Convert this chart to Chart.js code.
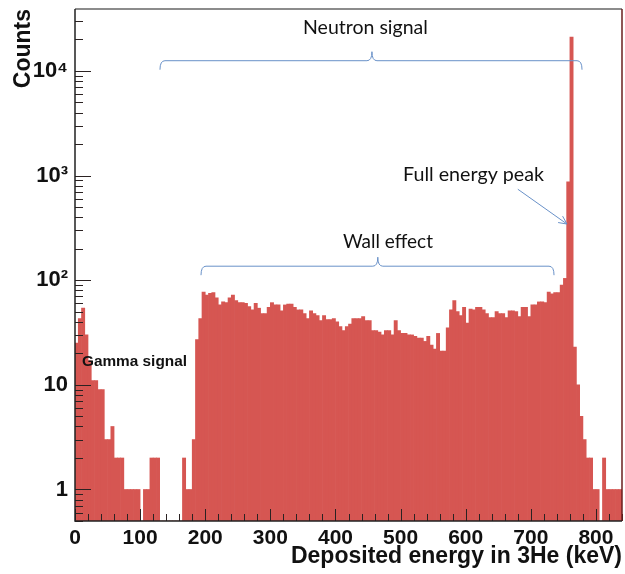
<!DOCTYPE html>
<html><head><meta charset="utf-8">
<script src="https://cdn.jsdelivr.net/npm/chart.js@4.4.1/dist/chart.umd.min.js"></script>
<style>html,body{margin:0;padding:0;background:#fff}canvas{display:block}</style>
</head><body>
<canvas id="c" width="625" height="574"></canvas>
<script>
// ---- data ----
const binWidth = 5; // keV per bin, histogram starts at 0 keV
// 0 - 195 keV : gamma region and start of wall effect
const gammaCounts = [25,43,54,30,17, 11,11,9,9,3, 3,4,2,2,2, 1,1,1,1,1, 0,1,1,2,2, 2,0,0,0,0, 0,0,0,2,1, 1,3,27,43];
// 195 - 750 keV : wall effect plateau
const wallCounts = [77,72,75,76,68,58,62,61,68,72,
  64,61,61,60,56,52,60,54,48,48,
  55,61,58,58,51,58,59,59,55,52,
  52,48,43,51,48,46,41,46,42,42,
  43,40,36,33,36,38,43,43,43,45,
  41,41,33,33,32,30,33,33,30,41,
  33,31,31,30,30,29,28,28,26,29,
  24,22,31,21,21,35,52,64,50,46,
  55,39,53,52,55,55,52,48,44,44,
  50,48,48,44,51,51,50,45,55,55,
  45,58,58,62,62,61,77,74,76,76,
  90];
// 750 - 840 keV : full energy peak and tail
const peakCounts = [104,870,21000,23,10,5,3,2,2,1,1,0,2,1,1,1,1,1];

const xTickValues = [0,100,200,300,400,500,600,700,800];
const xTickLabels = ['0','100','200','300','400','500','600','700','800'];
const yTickValues = [1,10,100,1000,10000];
const yTickLabels = ['1','10','10\u00B2','10\u00B3','10\u2074'];

const xMin = 0, xMax = 840, yMin = 0.5, yMax = 39000;
const xMinorStep = 20, xMajorStep = 100;

// annotations in data coordinates (keV, counts)
const braces = [
  {x1: 130.5, x2: 778.6, xm: 456, y: 12500},
  {x1: 193.5, x2: 735.6, xm: 465, y: 136}
];
const arrows = [{x1: 680, y1: 740, x2: 755.5, y2: 344}];
const notes = [
  {text: 'Neutron signal', x: 446, y: 22500, w: 125, align: 'center', family: 'Lato, "Open Sans", sans-serif', weight: 'normal'},
  {text: 'Full energy peak', x: 612, y: 887, w: 141, align: 'center', family: 'Lato, "Open Sans", sans-serif', weight: 'normal'},
  {text: 'Wall effect', x: 480.6, y: 203, w: 90, align: 'center', family: 'Lato, "Open Sans", sans-serif', weight: 'normal'},
  {text: 'Gamma signal', x: 10.7, y: 15.1, w: 105, align: 'left', family: '"Liberation Sans", Arial, sans-serif', weight: 'bold'}
];

// ---- build dataset ----
const counts = gammaCounts.concat(wallCounts, peakCounts);
const points = counts.map((c, i) => ({x: xMin + (i + 0.5) * binWidth, y: c}));

const barColor = 'rgb(214,86,82)';
const bracketColor = 'rgb(105,145,200)';
const xAxisFont = {family: '"Liberation Sans", Arial, sans-serif', weight: 'bold', size: 21};
const yAxisFont = {family: '"Liberation Sans", Arial, sans-serif', weight: 'bold', size: 22};

const frameTicks = {
  id: 'frameTicks',
  afterDatasetsDraw(chart) {
    const {ctx, chartArea: a, scales: {x, y}} = chart;
    ctx.save();
    ctx.strokeStyle = '#2b2222';
    ctx.lineWidth = 1;
    ctx.beginPath();
    for (let v = xMin; v <= xMax; v += xMinorStep) {
      const px = Math.round(x.getPixelForValue(v)) + 0.5;
      const len = (v % xMajorStep === 0) ? 12 : 7;
      ctx.moveTo(px, a.bottom); ctx.lineTo(px, a.bottom - len);
    }
    for (let e = -1; e <= 5; e++) {
      for (let k = 1; k <= 9; k++) {
        const v = k * Math.pow(10, e);
        if (v < yMin || v > yMax) continue;
        const py = Math.round(y.getPixelForValue(v)) + 0.5;
        const len = k === 1 ? 16 : 8;
        ctx.moveTo(a.left, py); ctx.lineTo(a.left + len, py);
      }
    }
    ctx.stroke();
    // frame
    ctx.lineWidth = 1.5;
    ctx.strokeStyle = '#666';
    ctx.beginPath(); ctx.moveTo(a.left, a.top); ctx.lineTo(a.right, a.top); ctx.stroke();
    ctx.strokeStyle = '#6a1e1e';
    ctx.beginPath(); ctx.moveTo(a.right, a.top); ctx.lineTo(a.right, a.bottom); ctx.stroke();
    ctx.strokeStyle = '#222';
    ctx.beginPath(); ctx.moveTo(a.left, a.top); ctx.lineTo(a.left, a.bottom); ctx.lineTo(a.right, a.bottom); ctx.stroke();
    ctx.restore();
  }
};

const annotations = {
  id: 'annotations',
  afterDraw(chart) {
    const {ctx, scales: {x, y}} = chart;
    ctx.save();
    ctx.strokeStyle = bracketColor;
    ctx.lineWidth = 1;
    const h = 9, r = 5;
    braces.forEach(b => {
      const x1 = x.getPixelForValue(b.x1), x2 = x.getPixelForValue(b.x2), xm = x.getPixelForValue(b.xm);
      const yy = y.getPixelForValue(b.y);
      ctx.beginPath();
      ctx.moveTo(x1, yy + h);
      ctx.quadraticCurveTo(x1, yy, x1 + r, yy);
      ctx.lineTo(xm - r, yy);
      ctx.quadraticCurveTo(xm, yy, xm, yy - h);
      ctx.quadraticCurveTo(xm, yy, xm + r, yy);
      ctx.lineTo(x2 - r, yy);
      ctx.quadraticCurveTo(x2, yy, x2, yy + h);
      ctx.stroke();
    });
    arrows.forEach(ar => {
      const ax = x.getPixelForValue(ar.x1), ay = y.getPixelForValue(ar.y1);
      const bx = x.getPixelForValue(ar.x2), by = y.getPixelForValue(ar.y2);
      ctx.beginPath(); ctx.moveTo(ax, ay); ctx.lineTo(bx, by); ctx.stroke();
      const ang = Math.atan2(by - ay, bx - ax), L = 9, sp = 0.45;
      ctx.beginPath();
      ctx.moveTo(bx - L * Math.cos(ang - sp), by - L * Math.sin(ang - sp));
      ctx.lineTo(bx, by);
      ctx.lineTo(bx - L * Math.cos(ang + sp), by - L * Math.sin(ang + sp));
      ctx.stroke();
    });
    notes.forEach(n => {
      ctx.font = `${n.weight} 20px ${n.family}`;
      const size = 20 * n.w / ctx.measureText(n.text).width;
      ctx.font = `${n.weight} ${size.toFixed(2)}px ${n.family}`;
      ctx.fillStyle = '#111';
      ctx.textAlign = n.align;
      ctx.textBaseline = 'alphabetic';
      ctx.fillText(n.text, x.getPixelForValue(n.x), y.getPixelForValue(n.y));
    });
    ctx.restore();
  }
};

new Chart(document.getElementById('c'), {
  type: 'bar',
  data: {datasets: [{data: points, backgroundColor: barColor, borderWidth: 0, barPercentage: 1, categoryPercentage: 1}]},
  options: {
    responsive: false,
    animation: false,
    devicePixelRatio: 1,
    layout: {padding: {top: 9, right: 3, left: 0, bottom: 0}},
    plugins: {legend: {display: false}, tooltip: {enabled: false}},
    scales: {
      x: {
        type: 'linear', min: xMin, max: xMax, offset: false, bounds: 'data',
        grid: {display: false, drawTicks: false}, border: {display: false},
        afterBuildTicks: s => { s.ticks = xTickValues.map(v => ({value: v})); },
        ticks: {font: xAxisFont, color: '#111', padding: 5, maxRotation: 0, autoSkip: false,
          callback: v => xTickLabels[xTickValues.indexOf(v)]},
        title: {display: true, text: 'Deposited energy in 3He (keV)', align: 'end', color: '#111',
          font: {family: '"Liberation Sans", Arial, sans-serif', weight: 'bold', size: 23}, padding: {top: 0, bottom: 4}},
        afterFit: s => { s.height = 53; s.paddingLeft = 0; s.paddingRight = 0; }
      },
      y: {
        type: 'logarithmic', min: yMin, max: yMax, bounds: 'data',
        grid: {display: false, drawTicks: false}, border: {display: false},
        afterBuildTicks: s => { s.ticks = yTickValues.map(v => ({value: v, major: true})); },
        ticks: {font: yAxisFont, color: '#111', padding: 7, autoSkip: false,
          callback: v => yTickLabels[yTickValues.indexOf(v)]},
        title: {display: true, text: 'Counts', align: 'end', color: '#111',
          font: {family: '"Liberation Sans", Arial, sans-serif', weight: 'bold', size: 23}, padding: {top: 10, bottom: 0}},
        afterFit: s => { s.width = 75; s.paddingTop = 0; s.paddingBottom = 0; }
      }
    }
  },
  plugins: [frameTicks, annotations]
});
</script>
</body></html>
